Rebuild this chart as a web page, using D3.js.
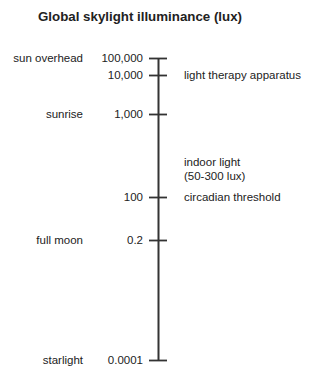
<!DOCTYPE html>
<html>
<head>
<meta charset="utf-8">
<script src="https://cdn.jsdelivr.net/npm/d3@7"></script>
<style>
  body { margin: 0; background: #fff; }
  text { font-family: "Liberation Sans", Arial, sans-serif; fill: #222; }
</style>
</head>
<body>
<svg id="chart"></svg>
<script>
// tick values (lux) from top to bottom
let luxTicks = [100000, 10000, 1000, 100, 0.2, 0.0001]
let tickLabels = ['100,000', '10,000', '1,000', '100', '0.2', '0.0001']
let leftNotes = ['sun overhead', '', 'sunrise', '', 'full moon', 'starlight']
let rightNotes = [
    { lux: 10000, lines: ['light therapy apparatus'] },
    { lux: 220, lines: ['indoor light', '(50-300 lux)'] },
    { lux: 100, lines: ['circadian threshold'] },
]

let opts = {
    width: 311,
    height: 367,
    axisX: 158,
    // the original axis is schematic, so the log scale is piecewise
    stops: [58, 75, 114, 197, 240, 360],
    fontSize: 11.5,
}

let svg = d3.select('#chart')
    .attr('width', opts.width)
    .attr('height', opts.height)

let y = d3.scaleLog()
    .domain(luxTicks)
    .range(opts.stops)

svg.append('text')
    .attr('x', 140)
    .attr('y', 21)
    .attr('text-anchor', 'middle')
    .attr('font-weight', 'bold')
    .attr('font-size', 13.3)
    .text('Global skylight illuminance (lux)')

let axis = d3.axisLeft(y)
    .tickValues(luxTicks)
    .tickFormat((d, i) => tickLabels[i])
    .tickSizeInner(9)
    .tickSizeOuter(0)
    .tickPadding(6)

let g = svg.append('g')
    .attr('transform', `translate(${opts.axisX},0)`)
    .call(axis)

g.select('.domain')
    .attr('stroke', '#333')
    .attr('stroke-width', 2)
g.selectAll('.tick line')
    .attr('x1', -9)
    .attr('x2', 9)
    .attr('stroke', '#333')
    .attr('stroke-width', 1.8)
g.selectAll('.tick text')
    .attr('font-size', opts.fontSize)
    .attr('fill', '#222')
    .style('font-family', '"Liberation Sans", Arial, sans-serif')

// descriptions left of the numbers
svg.append('g').selectAll('text')
    .data(luxTicks)
    .join('text')
    .attr('x', 83)
    .attr('y', d => y(d))
    .attr('dy', '0.35em')
    .attr('text-anchor', 'end')
    .attr('font-size', opts.fontSize)
    .text((d, i) => leftNotes[i])

// annotations right of the axis
let notes = svg.append('g').selectAll('text')
    .data(rightNotes)
    .join('text')
    .attr('x', 184)
    .attr('y', d => y(d.lux) - (d.lines.length - 1) * 7)
    .attr('font-size', opts.fontSize)

notes.selectAll('tspan')
    .data(d => d.lines)
    .join('tspan')
    .attr('x', 184)
    .attr('dy', (d, i) => i === 0 ? '0.35em' : 14)
    .text(d => d)
</script>
</body>
</html>
